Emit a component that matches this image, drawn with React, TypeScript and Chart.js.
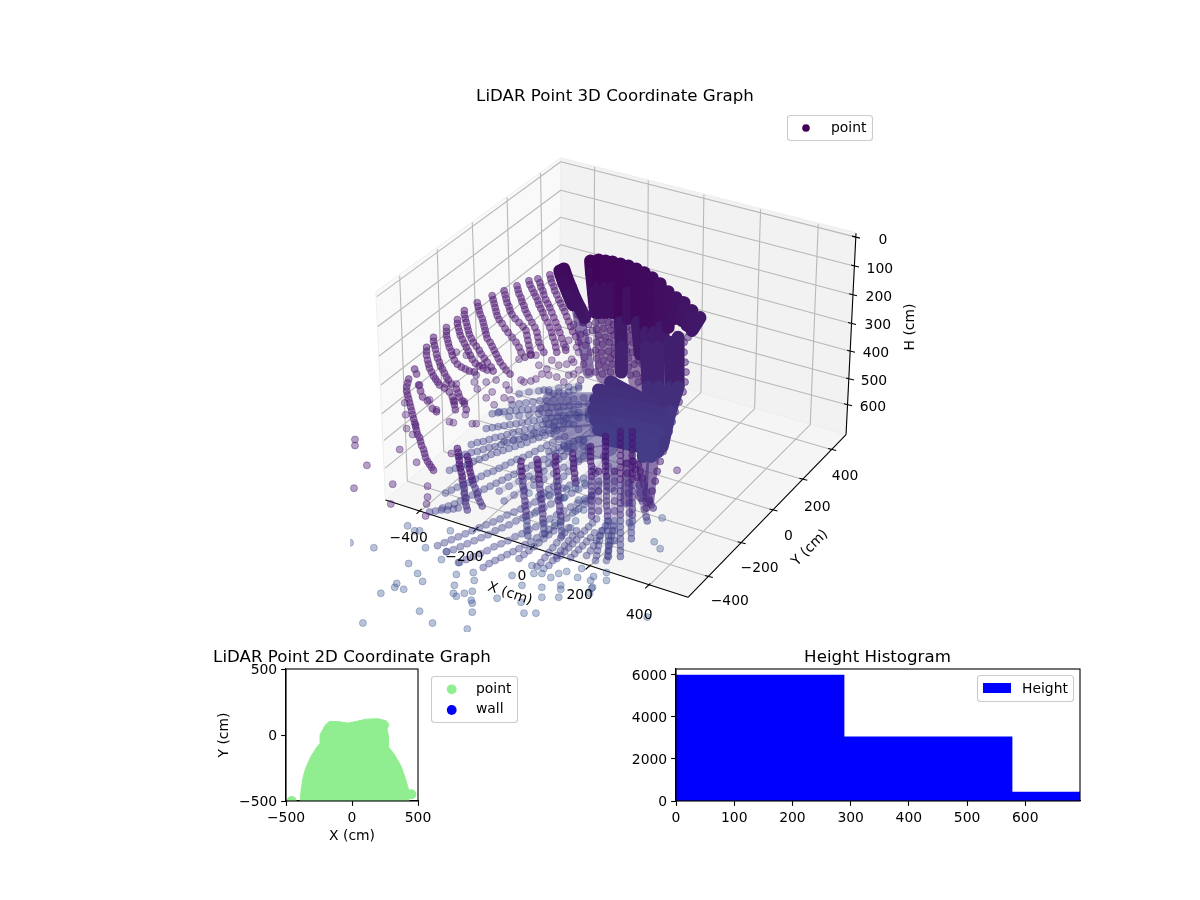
import React, { useEffect, useRef } from 'react';
import { Chart, registerables } from 'chart.js';

Chart.register(...registerables);

const paneLeft = [376, 289, 562, 154, 561, 350, 385.7, 499];
const paneBack = [562, 154, 859, 229.5, 849, 433, 561, 350];
const paneFloor = [385.7, 499, 561, 350, 849, 433, 690, 597];

const heightLinesLeft = [377, 294, 562, 158, 378, 324, 562, 186.7, 379, 354, 562, 214, 381, 383, 562, 241.7, 382, 412, 562, 269, 384, 439, 561, 297, 385, 467, 561, 324];
const heightLinesBack = [562, 158, 859, 234, 562, 186.7, 857, 263, 562, 214, 855, 292, 562, 241.7, 854, 321, 562, 269, 853, 349, 561, 297, 852, 377, 561, 324, 850, 403];
const verticalLinesLeft = [400, 273, 407.7, 480, 437.7, 246, 444.3, 450, 473, 219, 480, 419, 508, 194, 513, 391, 541.7, 169, 545, 363.6];
const verticalLinesBack = [596, 163, 595, 360, 650, 177, 649, 375.5, 706, 191, 703, 390.7, 763, 206, 757, 407, 821, 221, 813, 423];
const floorLinesX = [420, 511, 595, 360, 476.7, 529, 649, 375.5, 534, 547, 703, 390.7, 590, 567, 757, 407, 650, 586, 813, 423];
const floorLinesY = [407.7, 480, 710, 576, 444.3, 450, 743, 542, 480, 419, 775, 509, 513, 391, 805, 478, 545, 363.6, 834, 448];

const axisLines = [385.7, 499, 690, 597, 690, 597, 849, 433, 859, 230, 849, 433];
const axisTicks = [
  417, 513, 422, 508, 474, 531, 479, 526, 531, 549, 536, 544, 587, 569, 592, 564, 647, 588, 652, 583,
  707, 575, 715, 577, 740, 541, 748, 543, 772, 508, 780, 510, 802, 477, 810, 479, 831, 447, 839, 449,
  855, 233, 863, 235, 854, 262, 862, 264, 852, 291, 860, 293, 851, 320, 859, 322, 850, 348, 858, 350, 849, 376, 857, 378, 847, 402, 855, 404,
];

const xTickLabels = ['\u2212400', '\u2212200', '0', '200', '400'];
const xTickLabelX = [409, 465, 523, 581, 641];
const xTickLabelY = [538, 557, 576, 595, 615];
const yTickLabels = ['\u2212400', '\u2212200', '0', '200', '400'];
const yTickLabelX = [732, 762, 791, 820, 848];
const yTickLabelY = [601, 568, 536, 506, 475];
const heightTickLabels = ['0', '100', '200', '300', '400', '500', '600'];
const heightTickLabelX = [886, 883, 882, 881, 879, 877, 876];
const heightTickLabelY = [237, 267, 295, 323, 351, 379, 406];

// upper rows of the scan, on the far wall
const upperRows = [
  [409, 377, 408, 381, 407, 385, 407, 389, 408, 393, 409, 397, 410, 401, 411, 405, 412, 409, 413, 413, 414, 417, 415, 421, 416, 425, 417, 429, 418, 433, 420, 436, 421, 440, 422, 444, 424, 448, 425, 452, 426, 456, 428, 460, 430, 463, 432, 466, 434, 469],
  [415, 367, 417, 372],
  [419, 383, 421, 389, 423, 395, 428, 399, 433, 407, 437, 410],
  [427, 345, 427, 349, 427, 353, 428, 358, 429, 362, 430, 366, 432, 370, 434, 374, 436, 377, 438, 380, 440, 383, 445, 386, 450, 390, 453, 395, 454, 399, 455, 403, 456, 408],
  [434, 335, 434, 339, 435, 343, 436, 347, 437, 352, 438, 356, 440, 360, 441, 364, 443, 367, 445, 371, 447, 375, 449, 378, 452, 382, 457, 387, 459, 391, 460, 395, 463, 399, 465, 402, 467, 408],
  [447, 325, 447, 329, 447, 333, 448, 337, 449, 341, 450, 345, 452, 349, 453, 353, 455, 358, 458, 362, 462, 365, 466, 367, 470, 369, 475, 370],
  [458, 317, 458, 321, 459, 325, 460, 329, 461, 333, 463, 337, 465, 341, 467, 345, 469, 349, 471, 353, 473, 357, 476, 361, 480, 364, 484, 366, 488, 368],
  [465, 308, 465, 312, 466, 316, 467, 320, 468, 324, 469, 328, 470, 332, 472, 336, 474, 340, 477, 344, 480, 348, 482, 352, 485, 356, 488, 360, 492, 365, 494, 369],
  [478, 300, 479, 304, 480, 308, 481, 312, 483, 316, 484, 320, 485, 324, 486, 328, 487, 332, 488, 336, 491, 340, 493, 344, 495, 348, 497, 352, 499, 356, 501, 360, 504, 364, 507, 368, 511, 372],
  [493, 293, 494, 297, 495, 301, 496, 305, 497, 309, 498, 313, 500, 317, 503, 321, 506, 326, 509, 330, 513, 335, 517, 340, 520, 345, 522, 350, 526, 355],
  [505, 288, 506, 292, 507, 296, 508, 300, 510, 304, 511, 308, 513, 312, 516, 316, 520, 320, 524, 324, 527, 328, 528, 333, 529, 338, 530, 343, 531, 348, 532, 353],
  [518, 283, 519, 287, 520, 291, 522, 295, 523, 299, 525, 303, 526, 307, 528, 311, 530, 315, 533, 320, 536, 325, 538, 330, 539, 335, 540, 340, 542, 345, 545, 350],
  [530, 278, 531, 282, 533, 286, 535, 290, 537, 294, 539, 298, 540, 302, 542, 306, 544, 310, 546, 315, 549, 320, 551, 325, 553, 330, 554, 335, 556, 340, 557, 345, 558, 350],
  [539, 276, 541, 280, 542, 284, 544, 288, 545, 292, 547, 297, 549, 301, 551, 305, 553, 310, 555, 315, 557, 320, 559, 325, 561, 330, 563, 336, 565, 342, 567, 348],
  [551, 272, 552, 276, 553, 280, 555, 284, 556, 288, 558, 292, 560, 297, 562, 301, 564, 305, 566, 309, 568, 314, 570, 319, 572, 324, 574, 329, 577, 334, 580, 340],
];

const upperLoose = [
  405, 401, 406, 413, 407, 427, 413, 433, 416, 423,
  507, 383, 510, 388, 522, 378, 525, 380, 532, 379, 520, 357, 532, 352, 537, 353, 543, 372, 550, 373, 558, 375, 565, 380, 570, 373, 573, 357, 567, 345, 570, 338, 578, 345, 587, 343, 588, 330, 580, 368, 560, 363, 553, 358, 548, 367, 540, 363, 537, 377,
  487, 396, 495, 403, 505, 396, 512, 398, 493, 390, 497, 378, 487, 380, 477, 373, 483, 363, 475, 380, 478, 387, 467, 353, 457, 350, 447, 382, 457, 382, 455, 400, 465, 400, 466, 413, 450, 420, 454, 421, 473, 422, 477, 422, 437, 408, 430, 398, 420, 383,
  580, 350, 586, 355, 592, 350, 575, 360, 585, 362, 590, 370, 582, 378, 575, 372, 568, 362, 590, 338, 582, 332, 575, 322, 585, 320, 590, 312,
];

// the vertical rows at the front of the floor
const frontRows = [
  [522, 460, 522, 465, 523, 470, 523, 475, 524, 480, 524, 485, 525, 490, 525, 495, 526, 500, 526, 505, 527, 510, 527, 515, 528, 520, 528, 525, 528, 530, 529, 535],
  [538, 458, 539, 463, 539, 468, 540, 473, 540, 478, 541, 483, 541, 488, 542, 493, 542, 498, 543, 503, 543, 508, 544, 513, 544, 518, 545, 523, 545, 528, 546, 533],
  [557, 455, 557, 460, 557, 465, 558, 470, 558, 475, 558, 480, 559, 485, 559, 490, 560, 495, 560, 500, 561, 505, 561, 510, 562, 515, 562, 520, 562, 525, 563, 530, 563, 535],
  [574, 452, 574, 457, 575, 462, 575, 467, 576, 472, 576, 477, 577, 482],
  [592, 445, 592, 450, 592, 455, 592, 460, 593, 465, 593, 470, 593, 475, 593, 480, 593, 485, 593, 490, 593, 495, 593, 500, 593, 505, 593, 510, 593, 515],
  [607, 435, 607, 440, 607, 445, 607, 450, 607, 455, 607, 460, 607, 465, 607, 470, 608, 475, 608, 480, 608, 485, 608, 490, 608, 495, 608, 500, 608, 505, 609, 510, 609, 515, 609, 520, 609, 525, 609, 530, 610, 535, 610, 540, 610, 545, 610, 550, 610, 556],
  [622, 430, 622, 436, 622, 442, 622, 448, 622, 454, 622, 460, 622, 466, 622, 472, 622, 478, 622, 484, 622, 490, 622, 496, 622, 502, 622, 508, 622, 514, 622, 520, 622, 526, 622, 532, 622, 538, 622, 544, 622, 550, 622, 556],
  [634, 430, 634, 436, 634, 442, 634, 448, 634, 454, 634, 460, 634, 466, 634, 472, 634, 478, 634, 484, 634, 490, 634, 496, 634, 502, 634, 508, 634, 514, 634, 520, 633, 526, 633, 532, 633, 538],
  [635, 460, 637, 468, 639, 476, 641, 484, 642, 492, 644, 500, 646, 508, 648, 516, 649, 520],
  [640, 463, 642, 470, 644, 477, 646, 484, 648, 491, 651, 498, 653, 504, 655, 507],
  [628, 462, 629, 472, 630, 482, 630, 492, 631, 502, 631, 512, 631, 522],
  [616, 470, 616, 480, 616, 490, 616, 500, 616, 510, 616, 520, 616, 530, 616, 540],
  [600, 470, 600, 480, 600, 490, 600, 500, 600, 510],
  [458, 447, 459, 451, 459, 455, 460, 459, 460, 463, 461, 467, 462, 471, 463, 475, 463, 479, 464, 483, 465, 487, 465, 491, 465, 493, 466, 497, 466, 501, 467, 505, 468, 509],
  [468, 455, 469, 459, 470, 463, 470, 467, 471, 471, 472, 475, 473, 479, 474, 483, 476, 487, 478, 493, 479, 497, 481, 501, 483, 505],
];

// radial rows of floor returns, fanning out from under the sensor
const floorFan = [
  [493, 412, 499, 411, 505, 410, 511, 409, 517, 409, 523, 408, 529, 408, 535, 407, 541, 407, 547, 406, 553, 406, 559, 405, 565, 405, 571, 404, 580, 403, 590, 402],
  [513, 403, 520, 402, 527, 401, 534, 400, 541, 399, 548, 399, 555, 398, 562, 398, 569, 398, 575, 397, 585, 396, 595, 395],
  [487, 427, 493, 426, 499, 425, 505, 424, 511, 423, 517, 422, 523, 421, 529, 420, 535, 419, 541, 418, 547, 417, 553, 416, 559, 415, 565, 414, 571, 413, 580, 411, 590, 409],
  [472, 443, 478, 441, 484, 440, 490, 438, 496, 436, 502, 435, 508, 433, 514, 431, 520, 430, 526, 428, 532, 427, 538, 425, 544, 423, 550, 422, 556, 420, 562, 419, 568, 417, 578, 414, 590, 412],
  [450, 469, 456, 467, 462, 465, 468, 463, 474, 460, 480, 458, 486, 456, 492, 453, 498, 451, 504, 449, 510, 447, 516, 445, 522, 443, 528, 441, 534, 438, 540, 436, 546, 434, 552, 432, 558, 429, 564, 427, 575, 423, 590, 417],
  [443, 507, 449, 505, 455, 503, 461, 500, 467, 497, 473, 494, 479, 491, 485, 488, 491, 485, 497, 482, 503, 479, 509, 476, 515, 473, 521, 470, 527, 467, 533, 464, 539, 461, 545, 458, 551, 455, 557, 452, 563, 449, 569, 445, 580, 438, 595, 428],
  [430, 511, 436, 510, 442, 509, 448, 509, 454, 508, 459, 507],
  [446, 492, 452, 489, 458, 486, 464, 484, 470, 481, 476, 478, 482, 475, 488, 472, 494, 470, 500, 467, 506, 464, 512, 461, 518, 458, 524, 456, 530, 453, 536, 450, 542, 447, 548, 444, 554, 441, 560, 438, 566, 435, 580, 428, 595, 420],
  [460, 455, 466, 453, 472, 451, 478, 450, 484, 448, 490, 446, 496, 445, 502, 443, 508, 441, 514, 439, 520, 438, 526, 436, 532, 434, 538, 432, 544, 431, 550, 429, 556, 427, 570, 422, 590, 414],
  [438, 545, 445, 542, 452, 539, 459, 536, 466, 533, 473, 530, 480, 527, 487, 524, 494, 521, 501, 518, 508, 514, 515, 511, 522, 508, 529, 504, 536, 501, 543, 498, 550, 494, 557, 491, 564, 487, 571, 484, 578, 480, 585, 477, 595, 468, 605, 455],
  [447, 551, 454, 549, 461, 546, 468, 543, 475, 540, 482, 537, 489, 534, 496, 530, 503, 527, 510, 524, 517, 520, 524, 517, 531, 514, 538, 510, 545, 507, 552, 503, 559, 499, 566, 496, 573, 492, 580, 488, 587, 484, 597, 472, 607, 458],
  [460, 562, 467, 559, 474, 556, 481, 553, 488, 550, 495, 546, 502, 543, 509, 540, 516, 536, 523, 533, 530, 529, 537, 526, 544, 522, 551, 518, 558, 514, 565, 510, 572, 506, 579, 502, 586, 498, 593, 494, 600, 484, 610, 465],
  [484, 567, 490, 563, 496, 560, 502, 557, 508, 554, 514, 551, 520, 548, 526, 544, 532, 541, 538, 537, 544, 533, 550, 529, 556, 525, 562, 521, 568, 517, 574, 512, 580, 508, 586, 503, 592, 498, 600, 490],
  [598, 518, 594, 522, 590, 526, 586, 530, 582, 534, 578, 539, 574, 543, 570, 547, 566, 551, 562, 555, 558, 558],
  [596, 532, 592, 537, 588, 541, 584, 545, 580, 549, 576, 553, 572, 557],
  [610, 520, 607, 525, 604, 530, 601, 535, 598, 540, 595, 545, 592, 550, 588, 555],
  [615, 525, 614, 530, 613, 535, 612, 540, 611, 545, 610, 550, 609, 555, 608, 560],
  [603, 530, 602, 535, 601, 540, 600, 545, 599, 550, 598, 555, 597, 560],
  [578, 530, 574, 535, 570, 540, 566, 545, 562, 550, 558, 555, 554, 560, 550, 565],
  [570, 527, 566, 532, 562, 537, 558, 542, 554, 547, 550, 552, 546, 557, 542, 562, 538, 566],
  [555, 530, 550, 534, 545, 538, 540, 542, 535, 546, 530, 550, 525, 554, 520, 558],
  [590, 450, 585, 455, 580, 460, 575, 465, 570, 470, 565, 475, 560, 480, 555, 485, 550, 488, 545, 492, 540, 495],
  [585, 445, 575, 440, 570, 442, 565, 444, 560, 446, 555, 448, 550, 450],
  [580, 386, 575, 388, 570, 390, 565, 392, 560, 390, 555, 392, 550, 390, 545, 388],
  [535, 478, 545, 470, 555, 462, 565, 455, 575, 448, 585, 440, 598, 430],
  [505, 500, 515, 494, 525, 488, 535, 484, 545, 478, 555, 472, 565, 466, 575, 458, 590, 446],
  [500, 490, 510, 485, 520, 480, 530, 475, 540, 468, 550, 462, 560, 458, 570, 450, 585, 438],
  [500, 410, 510, 415, 520, 414, 530, 413, 540, 412, 550, 411, 560, 410, 575, 408],
  [505, 440, 515, 438, 525, 435, 535, 431, 545, 428, 555, 424, 565, 420, 580, 416],
  [520, 392, 530, 390, 540, 389, 550, 388, 560, 386, 570, 385, 580, 384],
];

// loose points around the rows
const looseFront = [
  408, 525, 415, 530, 420, 530, 426, 547, 451, 530, 442, 559, 459, 562, 447, 551, 409, 563, 374, 547, 418, 573, 423, 581, 397, 583, 395, 587, 404, 589, 381, 593,
  420, 611, 433, 623, 363, 623, 468, 629, 350, 542, 457, 574, 474, 572, 475, 580, 455, 585, 473, 591, 454, 593, 457, 596, 465, 593, 472, 600, 473, 603, 473, 612,
  498, 598, 522, 602, 525, 613, 537, 613, 523, 585, 513, 575, 533, 565, 545, 568, 543, 573, 552, 577, 560, 573, 562, 585, 562, 589, 560, 597, 543, 587, 543, 597,
  535, 573, 579, 577, 592, 580, 595, 576, 608, 572, 608, 580, 594, 587, 593, 588, 591, 593, 649, 617, 656, 541, 662, 548, 664, 517, 583, 568, 568, 571,
  551, 495, 562, 497, 565, 497, 568, 488, 580, 499, 577, 487, 586, 482, 587, 500, 585, 509, 577, 520, 577, 510, 572, 527, 536, 512, 556, 522, 530, 492,
];
const looseWall = [355, 438, 355, 444, 367, 464, 354, 487, 400, 448, 417, 461, 393, 483, 391, 503, 428, 485, 428, 496, 427, 503, 426, 515, 452, 452, 679, 469];

// thin cover over the sparser parts of the cloud
const speckleHaze = [
  [607, 318, 607, 345, 608, 372],
  [637, 315, 638, 345, 641, 378],
];
const lobeHaze = [
  [578, 300, 583, 330, 587, 350, 590, 370],
  [655, 455, 652, 480, 650, 500],
  [645, 455, 644, 480, 643, 495],
  [630, 440, 630, 470, 628, 500],
];
const floorHaze = [
  [550, 397, 600, 397],
  [545, 408, 600, 408],
  [550, 420, 600, 418],
  [558, 432, 600, 428],
  [568, 444, 605, 438],
  [582, 455, 612, 448],
  [612, 440, 612, 485],
];
const speckleDots = [
  597, 320, 603, 318, 610, 320, 615, 322, 598, 327, 605, 326, 612, 328, 600, 333, 607, 335, 615, 333, 598, 340, 604, 342, 611, 340, 616, 345, 597, 348, 603, 350, 610, 349, 616, 352, 598, 356, 605, 358, 612, 356, 600, 363, 607, 365, 614, 362, 597, 370, 604, 372, 612, 370,
  628, 318, 634, 316, 628, 325, 634, 327, 632, 333, 628, 340, 635, 340, 640, 345, 628, 348, 634, 350, 640, 358, 630, 356, 636, 362, 644, 362, 648, 370, 630, 365, 638, 372, 645, 375, 632, 373, 640, 380, 650, 378,
];
const edgeDots = [
  704, 314, 700, 322, 694, 330, 690, 335, 686, 340, 686, 350, 687, 360, 688, 370, 687, 380, 685, 390, 681, 400, 677, 410, 674, 420, 671, 430, 668, 440, 665, 450, 662, 460, 659, 470, 657, 480, 654, 490, 651, 500, 648, 507,
  574, 305, 579, 312, 584, 320, 590, 322, 594, 328,
];

// saturated parts of the cloud: so many returns that they read as solid bands
const wallBands = [
  [565, 266, 568, 275, 572, 285, 576, 295, 581, 305, 586, 315],
  [561, 268, 565, 280, 570, 292, 574, 302],
  [592, 258, 593, 270, 595, 290, 597, 310],
  [600, 257, 600, 285, 601, 310],
  [607, 258, 607, 285, 607, 310],
  [614, 259, 614, 285, 614, 310],
  [622, 261, 622, 320, 623, 345, 623, 370],
  [630, 263, 630, 290, 630, 316],
  [638, 266, 639, 320, 642, 352],
  [646, 270, 648, 330, 650, 352],
  [654, 275, 656, 330, 658, 350],
  [662, 281, 663, 325, 666, 338],
  [670, 289, 670, 325],
  [678, 295, 677, 316],
  [686, 300, 684, 318],
  [694, 308, 689, 323],
  [702, 315, 694, 328],
  [648, 345, 650, 385, 648, 430, 645, 455],
  [660, 345, 660, 385, 658, 430, 653, 455],
  [672, 340, 673, 385, 665, 420, 660, 450],
  [680, 335, 680, 385, 672, 410, 664, 445],
  [612, 380, 640, 395],
  [600, 388, 620, 392, 655, 400],
  [597, 398, 620, 402, 660, 410],
  [595, 408, 620, 412, 660, 420],
  [597, 418, 620, 422, 660, 430],
  [600, 428, 620, 432, 655, 440],
  [610, 438, 655, 448],
];

// ---- 2D panel ----
const pointOutline = [-393, -500, -385, -416, -372, -328, -351, -252, -312, -163, -272, -100, -242, -62, -242, 1, -229, 27, -201, 77, -171, 103, -95, 100, -32, 90, 32, 103, 108, 120, 196, 123, 259, 108, 280, 77, 265, 44, 277, -11, 275, -87, 323, -151, 373, -239, 404, -328, 429, -416, 432, -500];
const pointStray = [-457, -500, 450, -449];
const axisTicks2d = [-500, 0, 500];

// ---- histogram ----
const histBinCentres = [144.4, 433, 721.7];
const histCounts = [6000, 3050, 430];
const histTicksX = [0, 100, 200, 300, 400, 500, 600];
const histTicksY = [0, 2000, 4000, 6000];

const FONT = '"DejaVu Sans"';
const TICK_PX = 13.9;
const TITLE_PX = 16.67;

const toPoints = (flat: number[]) => {
  const out: { x: number; y: number }[] = [];
  for (let i = 0; i < flat.length; i += 2) out.push({ x: flat[i], y: flat[i + 1] });
  return out;
};

// separate pairs of end points with gaps so that one dataset holds many lines
const toSegments = (flat: number[]) => {
  const out: ({ x: number; y: number } | { x: null; y: null })[] = [];
  for (let i = 0; i < flat.length; i += 4) {
    out.push({ x: flat[i], y: flat[i + 1] }, { x: flat[i + 2], y: flat[i + 3] }, { x: null, y: null });
  }
  return out;
};

const lineSet = (flat: number[], color: string, width: number) => ({
  data: toSegments(flat) as any,
  showLine: true,
  borderColor: color,
  borderWidth: width,
  pointRadius: 0,
  spanGaps: false,
  clip: 0,
});

const dotSet = (flat: number[], color: any) => ({
  data: toPoints(flat),
  backgroundColor: color,
  borderColor: color,
  borderWidth: 1,
  pointRadius: 3.5,
  clip: 0,
});

// a soft stroke along a row, where the returns overlap too much to tell apart
const strokeSet = (flat: number[], color: string, width: number) => ({
  data: toPoints(flat),
  showLine: true,
  borderColor: color,
  borderWidth: width,
  borderCapStyle: 'round',
  borderJoinStyle: 'round',
  pointRadius: 0,
  clip: 0,
});

const bandColor = (y: number) => {
  const t = Math.min(1, Math.max(0, (y - 250) / 180));
  const r = 64 + 4 * t;
  const g = 4 + 56 * t;
  const b = 88 + 47 * t;
  return `rgb(${r},${g},${b})`;
};

const bandSet = (flat: number[]) => ({
  ...strokeSet(flat, bandColor(flat[1]), 13),
  segment: { borderColor: (ctx: any) => bandColor(ctx.p0.parsed.y) },
});

const frontColor = (ctx: any) => {
  const y = ctx.parsed ? ctx.parsed.y : 450;
  if (y < 480) return 'rgba(70,20,115,0.46)';
  if (y < 520) return 'rgba(68,45,128,0.38)';
  return 'rgba(62,70,140,0.34)';
};

const text = (ctx: CanvasRenderingContext2D, s: string, x: number, y: number, px = TICK_PX, align: CanvasTextAlign = 'center', rot = 0) => {
  ctx.save();
  ctx.translate(x, y);
  ctx.rotate((rot * Math.PI) / 180);
  ctx.font = `${px}px ${FONT}`;
  ctx.fillStyle = '#000';
  ctx.textAlign = align;
  ctx.textBaseline = 'middle';
  ctx.fillText(s, 0, 0);
  ctx.restore();
};

const legendBox = (ctx: CanvasRenderingContext2D, x0: number, y0: number, x1: number, y1: number) => {
  ctx.save();
  ctx.beginPath();
  ctx.roundRect(x0 + 0.5, y0 + 0.5, x1 - x0, y1 - y0, 3);
  ctx.fillStyle = 'rgba(255,255,255,0.8)';
  ctx.fill();
  ctx.strokeStyle = '#cccccc';
  ctx.lineWidth = 1.1;
  ctx.stroke();
  ctx.restore();
};

const legendDot = (ctx: CanvasRenderingContext2D, x: number, y: number, color: string, r: number) => {
  ctx.save();
  ctx.beginPath();
  ctx.arc(x, y, r, 0, Math.PI * 2);
  ctx.fillStyle = color;
  ctx.fill();
  ctx.restore();
};

const polygon = (chart: any, flat: number[], color: string) => {
  const { x, y } = chart.scales;
  const c = chart.ctx;
  c.save();
  c.beginPath();
  for (let i = 0; i < flat.length; i += 2) c.lineTo(x.getPixelForValue(flat[i]), y.getPixelForValue(flat[i + 1]));
  c.closePath();
  c.fillStyle = color;
  c.fill();
  c.strokeStyle = 'rgb(238,238,238)';
  c.lineWidth = 1;
  c.stroke();
  c.restore();
};

const panes3d = {
  id: 'panes3d',
  beforeDatasetsDraw(chart: any) {
    polygon(chart, paneLeft, 'rgb(249,249,249)');
    polygon(chart, paneBack, 'rgb(242,242,242)');
    polygon(chart, paneFloor, 'rgb(245,245,245)');
  },
};

const labels3d = {
  id: 'labels3d',
  afterDatasetsDraw(chart: any) {
    const c = chart.ctx;
    const { x, y } = chart.scales;
    xTickLabels.forEach((s, i) => text(c, s, x.getPixelForValue(xTickLabelX[i]), y.getPixelForValue(xTickLabelY[i])));
    yTickLabels.forEach((s, i) => text(c, s, x.getPixelForValue(yTickLabelX[i]), y.getPixelForValue(yTickLabelY[i])));
    heightTickLabels.forEach((s, i) => text(c, s, x.getPixelForValue(heightTickLabelX[i]), y.getPixelForValue(heightTickLabelY[i])));
    text(c, 'X (cm)', 510, 594, TICK_PX, 'center', 18);
    text(c, 'Y (cm)', 810, 548, TICK_PX, 'center', -45);
    text(c, 'H (cm)', 910, 327, TICK_PX, 'center', -90);
    text(c, 'LiDAR Point 3D Coordinate Graph', 615, 96.5, TITLE_PX);
    legendBox(c, 787, 115, 872, 140);
    legendDot(c, 806, 128, '#440154', 3.8);
    text(c, 'point', 831, 128, TICK_PX, 'left');
  },
};

const frameBox = {
  id: 'frameBox',
  afterDatasetsDraw(chart: any) {
    const { left, top, right, bottom } = chart.chartArea;
    const c = chart.ctx;
    c.save();
    c.strokeStyle = '#000';
    c.lineWidth = 1.1;
    c.strokeRect(left, top, right - left, bottom - top);
    c.restore();
  },
};

const labels2d = {
  id: 'labels2d',
  afterDraw(chart: any) {
    const c = chart.ctx;
    text(c, 'LiDAR Point 2D Coordinate Graph', 352, 657.5, TITLE_PX);
    legendBox(c, 431, 676, 517, 722);
    legendDot(c, 451.7, 689.3, 'lightgreen', 4.9);
    text(c, 'point', 476, 689, TICK_PX, 'left');
    legendDot(c, 451.7, 710, 'blue', 4.9);
    text(c, 'wall', 476, 709, TICK_PX, 'left');
  },
};

const labelsHist = {
  id: 'labelsHist',
  afterDraw(chart: any) {
    const c = chart.ctx;
    text(c, 'Height Histogram', 877.5, 657.5, TITLE_PX);
    legendBox(c, 977, 675, 1073, 701);
    c.fillStyle = 'blue';
    c.fillRect(983, 683, 28, 10);
    text(c, 'Height', 1022, 689, TICK_PX, 'left');
  },
};

const tickText = (v: any) => String(v).replace('-', '\u2212');
const fixedTicks = (values: number[]) => (s: any) => { s.ticks = values.map((value) => ({ value })); };

const axisCommon = {
  border: { color: '#000', width: 1.1 },
  grid: { drawOnChartArea: false, drawTicks: true, tickLength: 4.86, tickWidth: 1.1, tickColor: '#000', offset: false },
};
const tickCommon = {
  color: '#000',
  font: { family: FONT, size: TICK_PX },
  padding: 4,
  maxRotation: 0,
  autoSkip: false,
  callback: tickText,
};

export default function App() {
  const ref3d = useRef<HTMLCanvasElement>(null);
  const ref2d = useRef<HTMLCanvasElement>(null);
  const refHist = useRef<HTMLCanvasElement>(null);

  useEffect(() => {
    if (!ref3d.current || !ref2d.current || !refHist.current) return;

    // listed from the back of the picture to the front
    const layers: any[] = [
      lineSet([...heightLinesLeft, ...heightLinesBack, ...verticalLinesLeft, ...verticalLinesBack, ...floorLinesX, ...floorLinesY], '#b8b8b8', 1.1),
      lineSet([...axisLines, ...axisTicks], '#000', 1.1),
      dotSet(looseFront, 'rgba(62,88,148,0.36)'),
      ...speckleHaze.map((h) => strokeSet(h, 'rgba(70,25,110,0.55)', 22)),
      ...lobeHaze.map((h) => strokeSet(h, 'rgba(72,40,125,0.62)', 12)),
      ...floorHaze.map((h) => strokeSet(h, 'rgba(68,56,132,0.5)', 13)),
      ...floorFan.map((r) => strokeSet(r, 'rgba(62,62,138,0.16)', 6)),
      ...floorFan.map((r) => dotSet(r, 'rgba(62,62,138,0.32)')),
      dotSet(speckleDots, 'rgba(70,25,110,0.4)'),
      dotSet(edgeDots, 'rgba(72,30,115,0.5)'),
      ...wallBands.map(bandSet),
      ...frontRows.map((r) => strokeSet(r, 'rgba(66,40,125,0.26)', 7)),
      ...frontRows.map((r) => dotSet(r, frontColor)),
      ...upperRows.map((r) => strokeSet(r, 'rgba(72,15,110,0.22)', 7)),
      ...upperRows.map((r) => dotSet(r, 'rgba(72,15,110,0.36)')),
      dotSet(upperLoose, 'rgba(72,25,115,0.36)'),
      dotSet(looseWall, 'rgba(80,30,120,0.42)'),
    ];
    layers.forEach((d, i) => { d.order = layers.length - i; });

    const chart3d = new Chart(ref3d.current, {
      type: 'scatter',
      data: { datasets: layers },
      options: {
        responsive: false,
        animation: false,
        devicePixelRatio: 1,
        layout: { padding: { left: 350, top: 0, right: 0, bottom: 268 } },
        plugins: { legend: { display: false }, tooltip: { enabled: false } },
        scales: {
          x: { type: 'linear', display: false, min: 350, max: 1200 },
          y: { type: 'linear', display: false, min: 0, max: 632, reverse: true },
        },
      },
      plugins: [panes3d, labels3d],
    } as any);

    const chart2d = new Chart(ref2d.current, {
      type: 'scatter',
      data: {
        datasets: [
          {
            label: 'point',
            data: toPoints(pointOutline),
            showLine: true,
            fill: 'start',
            borderColor: 'lightgreen',
            backgroundColor: 'lightgreen',
            borderWidth: 1,
            pointRadius: 0,
            clip: 0,
          },
          { label: 'point', data: toPoints(pointStray), backgroundColor: 'lightgreen', borderWidth: 0, pointRadius: 5, clip: 0 },
          { label: 'wall', data: [], backgroundColor: 'blue' },
        ] as any,
      },
      options: {
        responsive: false,
        animation: false,
        devicePixelRatio: 1,
        layout: { padding: { left: 216, top: 669, right: 782, bottom: 55 } },
        plugins: { legend: { display: false }, tooltip: { enabled: false } },
        scales: {
          x: {
            type: 'linear',
            min: -500,
            max: 500,
            ...axisCommon,
            ticks: tickCommon,
            afterBuildTicks: fixedTicks(axisTicks2d),
            title: { display: true, text: 'X (cm)', color: '#000', font: { family: FONT, size: TICK_PX }, padding: 0 },
            afterFit: (s: any) => { s.height = 44; },
          },
          y: {
            type: 'linear',
            min: -500,
            max: 500,
            ...axisCommon,
            ticks: { ...tickCommon, labelOffset: 1.5 },
            afterBuildTicks: fixedTicks(axisTicks2d),
            title: { display: true, text: 'Y (cm)', color: '#000', font: { family: FONT, size: TICK_PX }, padding: 0 },
            afterFit: (s: any) => { s.width = 70; },
          },
        },
      },
      plugins: [frameBox, labels2d],
    } as any);

    const chartHist = new Chart(refHist.current, {
      type: 'bar',
      data: {
        datasets: [
          {
            label: 'Height',
            data: histBinCentres.map((x, i) => ({ x, y: histCounts[i] })),
            backgroundColor: 'blue',
            barThickness: 168,
            borderWidth: 0,
          },
        ],
      },
      options: {
        responsive: false,
        animation: false,
        devicePixelRatio: 1,
        layout: { padding: { left: 616, top: 669, right: 120, bottom: 74 } },
        plugins: { legend: { display: false }, tooltip: { enabled: false } },
        scales: {
          x: {
            type: 'linear',
            min: 0,
            max: 694,
            offset: false,
            ...axisCommon,
            ticks: tickCommon,
            afterBuildTicks: fixedTicks(histTicksX),
            afterFit: (s: any) => { s.height = 25; },
          },
          y: {
            type: 'linear',
            min: 0,
            max: 6285,
            ...axisCommon,
            ticks: { ...tickCommon, labelOffset: 1.5 },
            afterBuildTicks: fixedTicks(histTicksY),
            afterFit: (s: any) => { s.width = 60; },
          },
        },
      },
      plugins: [frameBox, labelsHist],
    } as any);

    return () => {
      chart3d.destroy();
      chart2d.destroy();
      chartHist.destroy();
    };
  }, []);

  const layer: React.CSSProperties = { position: 'absolute', left: 0, top: 0 };
  return (
    <div style={{ position: 'fixed', left: 0, top: 0, width: 1200, height: 900, background: '#fff', overflow: 'hidden' }}>
      <canvas ref={ref3d} width={1200} height={900} style={layer}></canvas>
      <canvas ref={ref2d} width={1200} height={900} style={layer}></canvas>
      <canvas ref={refHist} width={1200} height={900} style={layer}></canvas>
    </div>
  );
}
